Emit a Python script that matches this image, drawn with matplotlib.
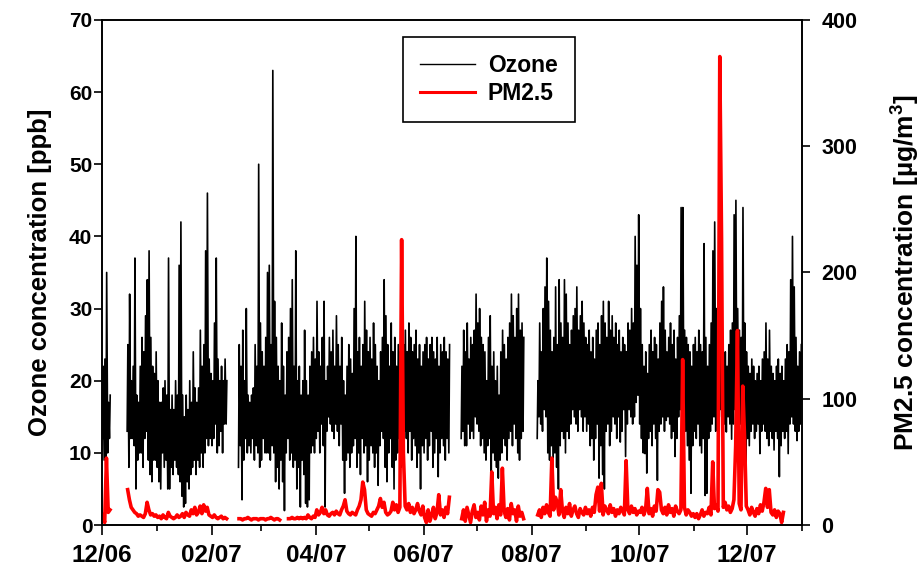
import numpy as np
import pandas as pd
import matplotlib
matplotlib.use('Agg')
import matplotlib.pyplot as plt
import matplotlib.dates as mdates

nan = np.nan

# daily values, 1 Dec 2006 .. 31 Dec 2007 (one line per month)
start_date = '2006-12-01'

o3_daily_max = [
    22, 23, 35, 17, 18, nan, nan, nan, nan, nan, nan, nan, nan, nan, 25, 32, 20, 22, 37, 18, 17, 22, 26, 24, 29, 34, 38, 26, 22, 21, 24,
    20, 17, 17, 19, 20, 18, 37, 16, 18, 16, 20, 18, 36, 42, 18, 15, 18, 16, 20, 17, 24, 19, 17, 19, 27, 22, 25, 38, 46, 23, 21,
    20, 28, 37, 23, 20, 22, 20, 23, 20, nan, nan, nan, nan, nan, nan, 25, 22, 27, 20, 30, 18, 17, 18, 19, 25, 22, 50, 28,
    24, 22, 26, 35, 36, 25, 63, 31, 26, 22, 20, 28, 22, 18, 24, 26, 30, 34, 22, 38, 20, 22, 18, 20, 27, 20, 18, 22, 24, 26, 23,
    31, 24, 22, 26, 31, 20, 22, 26, 24, 27, 22, 29, 25, 22, 26, 20, 18, 22, 25, 23, 21, 30, 40, 24, 26, 22, 25, 31, 27, 24,
    26, 23, 28, 25, 22, 20, 24, 26, 34, 29, 25, 22, 28, 24, 26, 22, 25, 24, 22, 25, 27, 24, 28, 26, 24, 25, 27, 23, 25, 22, 24,
    25, 26, 23, 25, 26, 24, 23, 26, 22, 25, 24, 26, 24, 23, 25, nan, nan, nan, nan, nan, nan, 22, 27, 24, 28, 23, 26, 25, 27, 32,
    28, 30, 26, 25, 24, 20, 26, 29, 22, 24, 20, 22, 18, 24, 27, 25, 23, 26, 28, 32, 29, 26, 30, 32, 27, 28, 26, nan, nan, nan, nan,
    nan, nan, nan, 20, 28, 24, 30, 33, 37, 31, 27, 24, 26, 33, 25, 34, 28, 26, 34, 32, 28, 25, 27, 29, 30, 33, 27, 29, 31, 28, 26,
    25, 27, 24, 26, 23, 27, 28, 25, 29, 31, 28, 26, 31, 27, 29, 26, 28, 25, 27, 24, 26, 25, 24, 28, 27, 30, 28, 40, 36, 43,
    30, 25, 22, 24, 21, 25, 27, 24, 26, 25, 23, 28, 31, 33, 27, 24, 26, 28, 25, 27, 23, 26, 29, 44, 44, 27, 26, 25, 24, 22, 25,
    26, 24, 27, 25, 24, 39, 26, 22, 25, 28, 38, 42, 30, 26, 25, 24, 23, 24, 22, 25, 27, 28, 43, 45, 30, 27, 26, 44, 28, 24,
    22, 21, 23, 22, 20, 21, 22, 20, 23, 24, 28, 23, 27, 22, 21, 20, 22, 23, 21, 22, 20, 23, 25, 24, 34, 40, 33, 26, 22, 24, 25,
]

o3_daily_min = [
    12, 9, 8, 10, 12, nan, nan, nan, nan, nan, nan, nan, nan, nan, 13, 8, 12, 12, 11, 5, 9, 10, 10, 8, 12, 13, 9, 7, 6, 9, 9,
    8, 6, 5, 10, 8, 9, 5, 5, 8, 7, 9, 8, 7, 6, 4, 2.5, 3, 6, 5, 7, 8, 9, 7, 9, 8, 10, 8, 10, 12, 11, 12,
    11, 12, 14, 10, 11, 13, 10, 14, 14, nan, nan, nan, nan, nan, nan, 8, 11, 3.5, 9, 12, 10, 11, 10, 12, 9, 11, 10, 8,
    9, 12, 10, 10, 10, 9, 11, 10, 6, 8, 5, 9, 6, 2, 10, 12, 9, 10, 8, 9, 5, 8, 2.5, 9, 7, 3, 2.5, 3.5, 10, 11, 10,
    12, 13, 10, 14, 11, 2.5, 13, 15, 14, 13, 12, 14, 13, 11, 14, 9, 4.4, 9, 10, 8, 10, 11, 12, 8, 10, 7, 12, 10, 11, 6,
    9, 11, 10, 8, 10, 5.5, 11, 13, 12, 8, 6, 10, 12, 8, 5, 9, 10, 12, 8, 11, 13, 12, 10, 13, 9, 12, 11, 8, 10, 5, 11,
    10, 12, 9, 11, 13, 8, 10, 12, 6.7, 10, 12, 11, 9, 12, 10, nan, nan, nan, nan, nan, nan, 12, 13, 11, 11, 14, 12, 13, 12, 15,
    14, 13, 11, 12, 10, 9, 11, 12, 7.4, 10, 9, 8, 6.5, 9, 10, 12, 11, 9, 12, 13, 11, 14, 12, 10, 9, 12, 13, nan, nan, nan, nan,
    nan, nan, nan, 12, 15, 14, 13, 16, 15, 10, 9, 11, 7.8, 10, 8, 5, 11, 13, 12, 10, 13, 12, 14, 16, 15, 14, 13, 16, 15, 13, 15,
    13, 14, 11, 12, 9, 12, 14, 6.5, 11, 7, 5, 13, 14, 11, 13, 15, 14, 12, 15, 11.5, 13, 16, 9.5, 14, 16, 15, 14, 15, 17, 18,
    14, 12, 10, 9.9, 7.2, 12, 13, 11, 14, 12, 6.2, 13, 14, 15, 13, 14.5, 15, 14, 12, 13, 9.5, 12, 15, 16, 17, 14, 13, 11, 9, 4.4, 11,
    13, 12, 14, 11, 10, 12, 4.1, 4.4, 12, 13, 14, 15, 13, 14, 15, 16, 15, 14, 12.9, 15, 14, 11.9, 14, 16, 13, 15, 14, 13, 12, 5.8,
    12, 11, 13, 14, 12, 13, 14, 9.9, 13, 14, 13, 12, 11, 13, 12, 10.4, 13, 12, 6.7, 11, 13, 12, 13, 9.9, 14, 15, 14, 13, 11.7, 13, 14,
]

pm25_daily = [
    8, 2, 53, 10, 12, nan, nan, nan, nan, nan, nan, nan, nan, nan, 28, 20, 14, 12, 10, 9, 7, 8, 7, 6, 9, 18, 12, 8, 9, 7, 8,
    6, 7, 5, 8, 6, 5, 10, 7, 6, 5, 6, 8, 6, 7, 9, 6, 10, 8, 7, 12, 9, 14, 8, 10, 15, 9, 16, 11, 14, 8, 7,
    6, 8, 6, 5, 6, 7, 5, 6, 5, nan, nan, nan, nan, nan, nan, 5, 5, 4, 5, 5, 6, 5, 4, 5, 5, 5, 4, 5,
    5, 5, 4, 5, 5, 6, 5, 4, 5, 5, 4, nan, nan, nan, nan, 5, 5, 6, 5, 5, 6, 5, 6, 5, 6, 5, 8, 6, 5, 7, 6,
    12, 8, 10, 14, 9, 12, 8, 7, 9, 10, 8, 11, 9, 8, 12, 15, 20, 11, 9, 8, 10, 9, 8, 12, 15, 20, 34, 28, 12, 9,
    8, 7, 10, 9, 12, 15, 21, 14, 18, 10, 8, 9, 11, 18, 12, 16, 10, 14, 226, 57, 15, 12, 17, 10, 14, 9, 12, 17, 11, 8, 15,
    6, 2, 12, 3, 8, 14, 5, 10, 24, 8, 12, 6, 14, 9, 22, nan, nan, nan, nan, nan, nan, 5, 12, 3, 14, 8, 2, 11, 16, 6,
    10, 4, 15, 8, 18, 3, 12, 7, 42, 9, 14, 5, 16, 8, 45, 11, 6, 13, 4, 17, 9, 12, 3, 15, 7, 10, 5, nan, nan, nan, nan,
    nan, nan, nan, 8, 12, 6, 14, 9, 16, 10, 7, 53, 12, 22, 18, 8, 28, 11, 6, 14, 9, 17, 7, 12, 15, 9, 6, 13, 10, 8, 14,
    9, 12, 7, 14, 10, 24, 30, 11, 33, 8, 15, 12, 9, 16, 10, 13, 7, 12, 9, 14, 11, 8, 51, 12, 9, 15, 10, 13, 8, 11,
    10, 14, 8, 12, 29, 9, 13, 7, 15, 11, 28, 26, 12, 9, 14, 8, 16, 10, 13, 7, 15, 11, 9, 12, 131, 14, 8, 12, 10, 7, 9,
    6, 9, 5, 8, 12, 7, 10, 9, 14, 8, 50, 13, 16, 11, 371, 227, 14, 18, 12, 15, 10, 13, 20, 63, 154, 17, 12, 110, 70, 15,
    12, 8, 14, 10, 7, 13, 9, 16, 11, 18, 29, 14, 28, 10, 8, 12, 6, 11, 9, 2, 10, nan, nan, nan, nan, nan, nan, nan, nan, nan, nan,
]

days = pd.date_range(start_date, periods=len(o3_daily_max), freq='D')

# ozone: daily minimum early morning, maximum in the afternoon
t_o3 = np.column_stack([(days + pd.Timedelta(hours=5)).values,
                        (days + pd.Timedelta(hours=15)).values]).ravel()
o3 = np.column_stack([o3_daily_min, o3_daily_max]).ravel()
t_pm = (days + pd.Timedelta(hours=12)).values

plt.rcParams['font.family'] = 'Liberation Sans'
plt.rcParams['font.weight'] = 'bold'
plt.rcParams['mathtext.fontset'] = 'custom'
plt.rcParams['mathtext.rm'] = 'Liberation Sans:bold'
plt.rcParams['mathtext.bf'] = 'Liberation Sans:bold'

fig = plt.figure(figsize=(9.2, 5.69), dpi=100)
ax = fig.add_axes([0.1109, 0.0773, 0.7608, 0.8876])
ax2 = ax.twinx()

l1, = ax.plot(t_o3, o3, color='black', lw=1.2, label='Ozone')
l2, = ax2.plot(t_pm, pm25_daily, color='red', lw=2.6, label='PM2.5')

ax.set_xlim(pd.Timestamp('2006-12-01'), pd.Timestamp('2008-01-01'))
ax.set_ylim(0, 70)
ax2.set_ylim(0, 400)
ax.set_yticks(range(0, 71, 10))
ax2.set_yticks(range(0, 401, 100))

ax.xaxis.set_major_locator(mdates.MonthLocator(bymonth=[2, 4, 6, 8, 10, 12]))
ax.xaxis.set_minor_locator(mdates.MonthLocator())
ax.xaxis.set_major_formatter(mdates.DateFormatter('%m/%y'))

ax.set_ylabel('Ozone concentration [ppb]', fontsize=18.5, fontweight='bold', labelpad=12)
ax2.set_ylabel(r'PM2.5 concentration [µg/m$^3$]', fontsize=19, fontweight='bold', labelpad=22)

ax.tick_params(axis='x', which='major', direction='out', length=7, width=1.2, labelsize=17.5, pad=7)
ax.tick_params(axis='x', which='minor', direction='out', length=4, width=1.2)
ax.tick_params(axis='y', direction='out', length=6, width=1.2, labelsize=15, pad=1)
ax2.tick_params(axis='y', direction='out', length=6, width=1.2, labelsize=15.5, pad=8)
for a in (ax, ax2):
    for s in a.spines.values():
        s.set_linewidth(1.2)

leg = ax2.legend(handles=[l1, l2], loc='upper left', bbox_to_anchor=(0.438, 0.935),
                 bbox_transform=fig.transFigure, borderaxespad=0, fancybox=False,
                 edgecolor='black', framealpha=1, handlelength=2.4, handletextpad=0.55,
                 labelspacing=0.2, borderpad=0.75, prop={'size': 16.5, 'weight': 'bold'})
leg.get_frame().set_linewidth(1.2)
leg.get_lines()[0].set_linewidth(1.0)
leg.get_lines()[1].set_linewidth(2.2)

fig.savefig('out.png', dpi=100)
